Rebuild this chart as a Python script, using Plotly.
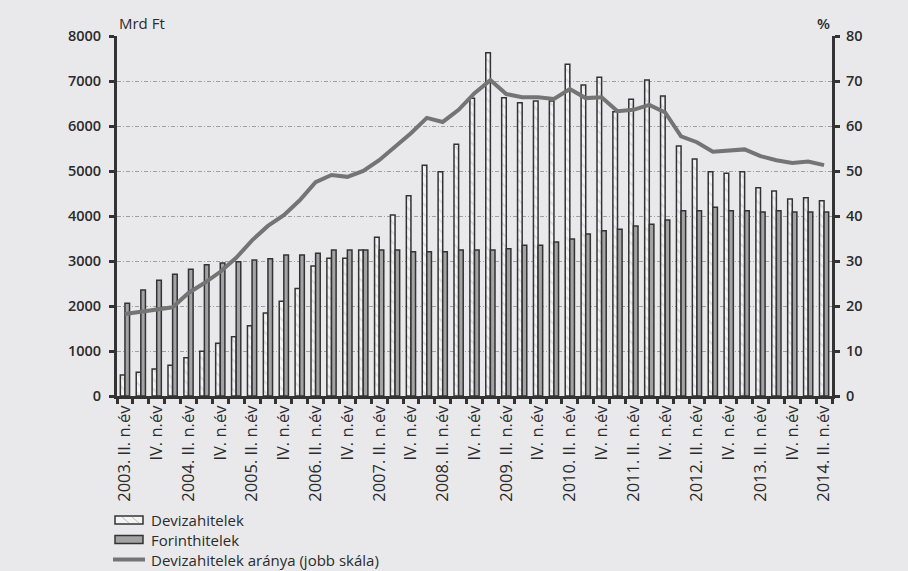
import plotly.graph_objects as go

years = list(range(2003, 2015))
quarters = []
for y in years:
    for q in range(1, 5):
        if (y == 2003 and q < 2) or (y == 2014 and q > 2):
            continue
        quarters.append(f"{y}Q{q}")

tick_labels = []
for qn in quarters:
    y, q = qn.split("Q")
    q = int(q)
    if q == 2:
        tick_labels.append(f"{y}. II. n.év")
    elif q == 4:
        tick_labels.append("IV. n.év")
    else:
        tick_labels.append("")

deviza = [467, 526, 600, 681, 852, 993, 1170, 1319, 1563, 1844, 2104, 2390, 2889, 3059, 3059,
          3244, 3526, 4022, 4452, 5126, 4985, 5593, 6615, 7630, 6630, 6519, 6556, 6556, 7370,
          6911, 7081, 6319, 6593, 7022, 6667, 5556, 5267, 4985, 4948, 4985, 4630, 4556, 4378,
          4407, 4341]
forint = [2059, 2356, 2570, 2704, 2815, 2919, 2956, 2985, 3022, 3052, 3133, 3133, 3170, 3244,
          3244, 3244, 3244, 3244, 3207, 3207, 3207, 3244, 3244, 3244, 3274, 3348, 3348, 3422,
          3489, 3600, 3674, 3704, 3778, 3815, 3911, 4119, 4119, 4193, 4119, 4119, 4089, 4119,
          4089, 4089, 4089]
arany = [18.2, 18.7, 19.4, 19.7, 22.9, 25.1, 27.6, 30.7, 34.6, 37.8, 40.2, 43.5, 47.5, 49.1,
         48.7, 50.0, 52.4, 55.3, 58.4, 61.8, 60.9, 63.6, 67.3, 70.2, 67.1, 66.4, 66.4, 66.0,
         68.2, 66.2, 66.4, 63.3, 63.6, 64.7, 63.0, 57.7, 56.4, 54.3, 54.5, 54.8, 53.3, 52.4,
         51.8, 52.1, 51.3]

legend_names = ["Devizahitelek", "Forinthitelek", "Devizahitelek aránya (jobb skála)"]

FONT = "Open Sans"
DARK = "#2b2b2b"
BG = "#e9e9eb"
W, H = 908, 571
ML, MR, MT, MB = 117, 76, 36, 175
PW, PH = W - ML - MR, H - MT - MB

def px_x(x):
    return (x - ML) / PW

def px_y(y):
    return (H - MB - y) / PH

fig = go.Figure()
fig.add_trace(go.Bar(
    x=quarters, y=deviza, name=legend_names[0],
    marker=dict(color="#f4f4f4", line=dict(color="#333333", width=1.5),
                pattern=dict(shape="\\", fgcolor="#bdbdbd", bgcolor="#f4f4f4", size=7, solidity=0.25)),
))
fig.add_trace(go.Bar(
    x=quarters, y=forint, name=legend_names[1],
    marker=dict(color="#a3a3a3", line=dict(color="#333333", width=1.5)),
))
fig.add_trace(go.Scatter(
    x=quarters, y=arany, name=legend_names[2], yaxis="y2",
    mode="lines", line=dict(color="#747474", width=4),
))

# manual legend (compact spacing like the reference)
leg_rows = [520, 539.5, 559.5]
shapes = []
annotations = []
shapes.append(dict(type="rect", xref="paper", yref="paper",
                   x0=px_x(115), x1=px_x(143), y0=px_y(leg_rows[0] - 4), y1=px_y(leg_rows[0] + 4),
                   fillcolor="#f4f4f4", line=dict(color="#333333", width=1.5)))
for hx in (122, 132):
    shapes.append(dict(type="line", xref="paper", yref="paper",
                       x0=px_x(hx), x1=px_x(hx + 7), y0=px_y(leg_rows[0] - 3), y1=px_y(leg_rows[0] + 3),
                       line=dict(color="#bdbdbd", width=1)))
shapes.append(dict(type="rect", xref="paper", yref="paper",
                   x0=px_x(115), x1=px_x(143), y0=px_y(leg_rows[1] - 4), y1=px_y(leg_rows[1] + 4),
                   fillcolor="#a3a3a3", line=dict(color="#333333", width=1.5)))
shapes.append(dict(type="line", xref="paper", yref="paper",
                   x0=px_x(113), x1=px_x(145), y0=px_y(leg_rows[2]), y1=px_y(leg_rows[2]),
                   line=dict(color="#747474", width=4)))
for name, row in zip(legend_names, leg_rows):
    annotations.append(dict(text=name, xref="paper", yref="paper", x=px_x(149), y=px_y(row),
                            xanchor="left", yanchor="middle", showarrow=False,
                            font=dict(size=15, family=FONT, color=DARK)))

annotations += [
    dict(text="Mrd Ft", xref="paper", yref="paper", x=0.0, y=1.0, xanchor="left",
         yanchor="bottom", showarrow=False, font=dict(size=15, family=FONT, color=DARK), yshift=1),
    dict(text="%", xref="paper", yref="paper", x=1.0, y=1.0, xanchor="right",
         yanchor="bottom", showarrow=False, font=dict(size=15, family=FONT, color=DARK, weight=600), yshift=1),
]

fig.update_layout(
    width=W, height=H,
    paper_bgcolor=BG, plot_bgcolor=BG,
    margin=dict(l=ML, r=MR, t=MT, b=MB, autoexpand=False),
    barmode="group", bargap=0.42, bargroupgap=0,
    font=dict(family=FONT, color=DARK, size=14),
    showlegend=False,
    shapes=shapes,
    annotations=annotations,
    xaxis=dict(
        type="category", categoryorder="array", categoryarray=quarters,
        tickmode="array", tickvals=quarters, ticktext=tick_labels,
        tickson="boundaries", ticks="outside", ticklen=5, tickwidth=3, tickcolor="#333333",
        tickangle=-90, tickfont=dict(size=16.5, family=FONT, color=DARK),
        showline=True, linewidth=3, linecolor="#333333", showgrid=False,
        range=[-0.5, len(quarters) - 0.5], automargin=False,
    ),
    yaxis=dict(
        range=[0, 8000], dtick=1000, tick0=0,
        ticks="outside", ticklen=5, tickwidth=3, tickcolor="#333333",
        showline=True, linewidth=3, linecolor="#333333",
        showgrid=True, gridcolor="#a0a0a0", gridwidth=1, griddash="4px,2px,1px,2px",
        tickfont=dict(size=14.5, family=FONT, color=DARK, weight=600),
        ticklabelstandoff=5,
        zeroline=False, automargin=False,
    ),
    yaxis2=dict(
        range=[0, 80], dtick=10, tick0=0, overlaying="y", side="right",
        ticks="outside", ticklen=5, tickwidth=3, tickcolor="#333333",
        showline=True, linewidth=3, linecolor="#333333", showgrid=False,
        tickfont=dict(size=14.5, family=FONT, color=DARK, weight=600),
        ticklabelstandoff=3,
        zeroline=False, automargin=False,
    ),
)

fig.write_html("out.html", config={"displayModeBar": False},
               post_script="document.body.style.margin='0';document.body.style.background='%s';" % BG)
